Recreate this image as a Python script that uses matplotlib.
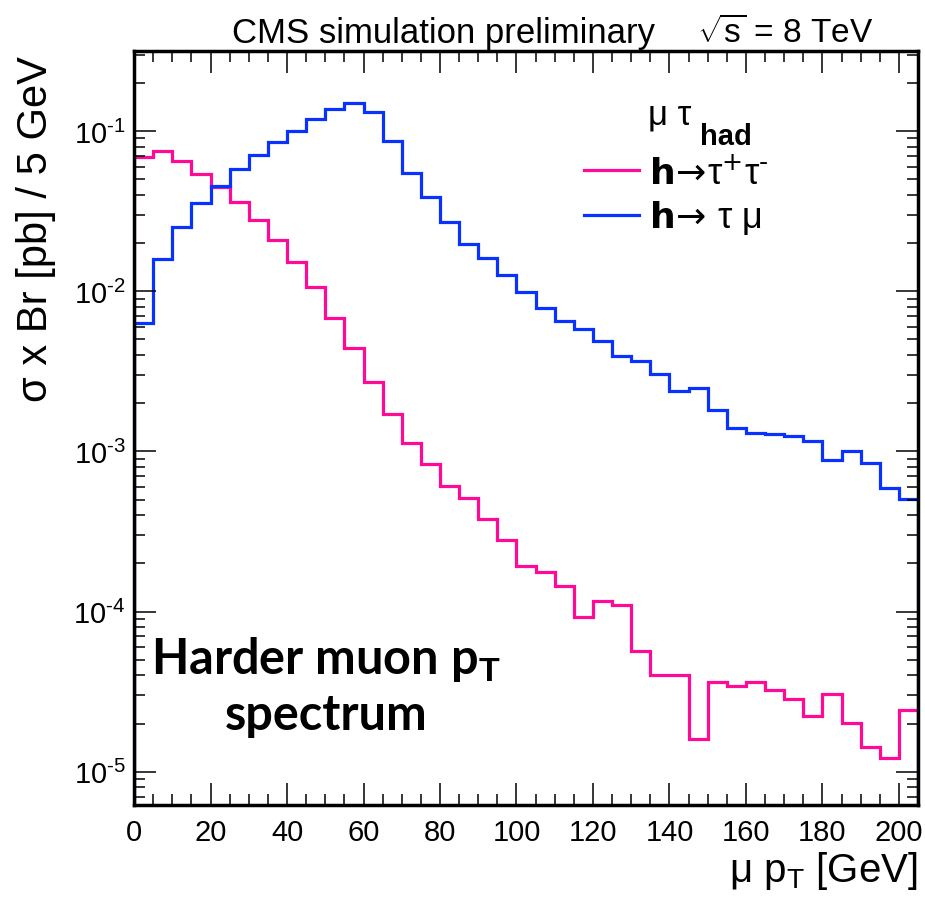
import numpy as np
import matplotlib
matplotlib.use("Agg")
import matplotlib.pyplot as plt
from matplotlib.lines import Line2D
from matplotlib.ticker import MultipleLocator, LogLocator, FuncFormatter

plt.rcParams['font.family'] = ['Liberation Sans', 'DejaVu Sans']
plt.rcParams['mathtext.fontset'] = 'custom'
plt.rcParams['mathtext.rm'] = 'Liberation Sans'
plt.rcParams['mathtext.it'] = 'Liberation Sans:italic'
plt.rcParams['mathtext.bf'] = 'Liberation Sans:bold'

# bin edges, 5 GeV bins
edges = np.arange(0, 210, 5)

# h -> tau tau (mu tau_had)
h_tautau = [0.069, 0.075, 0.065, 0.054, 0.045, 0.036, 0.028, 0.021, 0.0153, 0.0107,
            0.0068, 0.0044, 0.0027, 0.0017, 0.00113, 0.00083, 0.00061, 0.00051, 0.00038, 0.00028,
            0.000193, 0.000176, 0.000145, 0.000093, 0.000116, 0.000110, 0.000057, 0.000040, 0.000040, 0.000016,
            0.0000365, 0.0000345, 0.0000365, 0.0000324, 0.0000285, 0.0000224, 0.0000306, 0.0000201, 0.0000142, 0.0000122,
            0.0000243]

# h -> tau mu
h_taumu = [0.0063, 0.0158, 0.0252, 0.0353, 0.0453, 0.0576, 0.0708, 0.0858, 0.1005, 0.1184,
           0.1368, 0.150, 0.132, 0.0866, 0.0545, 0.0385, 0.0271, 0.0196, 0.0162, 0.0127,
           0.0099, 0.0079, 0.0065, 0.00585, 0.00487, 0.00393, 0.00365, 0.00306, 0.00238, 0.0025,
           0.00182, 0.00141, 0.00131, 0.00128, 0.00124, 0.00116, 0.00089, 0.00101, 0.000845, 0.00059,
           0.000506]

pink = '#ff0a96'
blue = '#0a32ff'

fig = plt.figure(figsize=(9.25, 9.03), dpi=100)
ax = fig.add_axes([0.1449, 0.1074, 0.8476, 0.835])

ax.stairs(h_tautau, edges, baseline=1e-8, color=pink, lw=2.3)
ax.stairs(h_taumu, edges, baseline=1e-8, color=blue, lw=2.3)

ax.set_yscale('log')
ax.set_xlim(0, 205)
ax.set_ylim(6.2e-6, 0.316)

ax.xaxis.set_major_locator(MultipleLocator(20))
ax.xaxis.set_minor_locator(MultipleLocator(5))
ax.yaxis.set_minor_locator(LogLocator(base=10, subs=np.arange(2, 10)))


def log_fmt(v, pos):
    e = int(round(np.log10(v)))
    sign = r'\text{-}' if e < 0 else ''
    return r'$\mathdefault{10^{%s%d}}$' % (sign, abs(e))


ax.yaxis.set_major_formatter(FuncFormatter(log_fmt))

ax.tick_params(which='both', direction='in', top=True, right=True, width=1.1, colors='black')
ax.tick_params(which='major', length=16, labelsize=21)
ax.tick_params(which='minor', length=8)
ax.tick_params(axis='x', which='major', pad=9)
ax.tick_params(axis='y', which='major', pad=6)
for s in ax.spines.values():
    s.set_linewidth(2.5)

ax.set_ylabel('σ x Br [pb] / 5 GeV', fontsize=30)
ax.yaxis.set_label_coords(-0.1, 0.765)
ax.set_xlabel(r'μ p$_{\mathrm{T}}$ [GeV]', fontsize=29, loc='right')
ax.xaxis.set_label_coords(1.0, -0.058)

fig.text(0.251, 0.963, 'CMS simulation preliminary', fontsize=25, va='center')
fig.text(0.754, 0.963, r'$\sqrt{\mathrm{s}}$ = 8 TeV', fontsize=24, va='center')

# legend
ax.text(0.656, 0.916, 'μ τ', transform=ax.transAxes, fontsize=25, va='center')
ax.text(0.722, 0.887, 'had', transform=ax.transAxes, fontsize=21, fontweight='bold', va='center')
handles = [Line2D([], [], color=pink, lw=2.3), Line2D([], [], color=blue, lw=2.3)]
labels = [r'$\mathbf{h}\!\rightarrow\!$τ$^{+}$τ$^{\text{-}}$', r'$\mathbf{h}\!\rightarrow\!$ τ μ']
leg = ax.legend(handles, labels, frameon=False, fontsize=26, loc='upper left',
                bbox_to_anchor=(0.556, 0.88), handlelength=1.5, handletextpad=0.3,
                labelspacing=0.2, borderaxespad=0)
for t in leg.get_texts():
    t.set_math_fontfamily('dejavusans')

ax.text(0.245, 0.159, 'Harder muon p$_{\\mathbf{T}}$\nspectrum', transform=ax.transAxes,
        fontsize=35, fontweight='bold', family='Lato', ha='center', va='center',
        linespacing=1.25)

fig.savefig('out.png', dpi=100)
